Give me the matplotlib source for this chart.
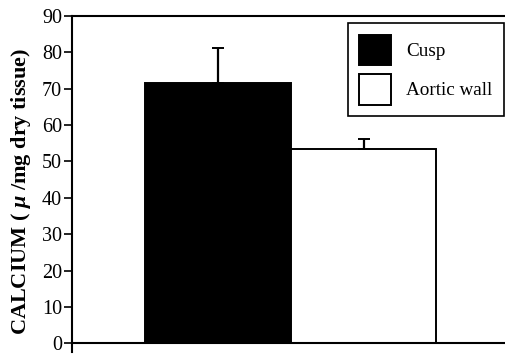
import matplotlib
matplotlib.use("Agg")
import matplotlib.pyplot as plt

plt.rcParams['font.family'] = ['Liberation Serif', 'DejaVu Serif']
plt.rcParams['mathtext.fontset'] = 'custom'
plt.rcParams['mathtext.it'] = 'Liberation Serif:italic:bold'
plt.rcParams['mathtext.rm'] = 'Liberation Serif:bold'

# Calcium content per tissue type (mean, upper SD)
tissues = ["Cusp", "Aortic wall"]
calcium = [71.5, 53.4]
calcium_sd = [9.7, 2.8]
bar_colors = ["black", "white"]
yticks = [0, 10, 20, 30, 40, 50, 60, 70, 80, 90]

fig = plt.figure(figsize=(5.06, 3.54), dpi=100)
ax = fig.add_axes([0.1417, 0.0056, 0.8583, 0.9492])

positions = [0, 1]
for pos, val, sd, col, name in zip(positions, calcium, calcium_sd, bar_colors, tissues):
    ax.bar(pos, val, width=1.0, color=col, edgecolor="black", linewidth=1.4,
           label=name, zorder=2)
    ax.errorbar(pos, val, yerr=[[0], [sd]], fmt="none", ecolor="black",
                elinewidth=1.6, capsize=4, capthick=1.4, zorder=3)

ax.set_xlim(-1.005, 1.979)
ax.set_ylim(-2.4, 90)
ax.set_yticks(yticks)
ax.set_xticks([])

ax.spines['right'].set_visible(False)
ax.spines['bottom'].set_position(('data', 0))
for side in ['left', 'top', 'bottom']:
    ax.spines[side].set_linewidth(1.5)

ax.tick_params(axis='y', direction='out', length=5.8, width=1.2, pad=1.2,
               labelsize=14.5)

ax.set_ylabel(r"CALCIUM ( $\mu$ /mg dry tissue)", fontsize=16, fontweight='bold')
ax.yaxis.set_label_coords(-0.088, 0.478)

leg = ax.legend(loc='upper right', bbox_to_anchor=(504 / 506, 1 - 23 / 354),
                bbox_transform=fig.transFigure, borderaxespad=0,
                fontsize=13.8, handlelength=1.65, handleheight=2.1,
                labelspacing=0.45, borderpad=0.6, handletextpad=0.8,
                fancybox=False, framealpha=1, edgecolor='black')
leg.get_frame().set_linewidth(1.2)

fig.savefig("out.png", dpi=100)
